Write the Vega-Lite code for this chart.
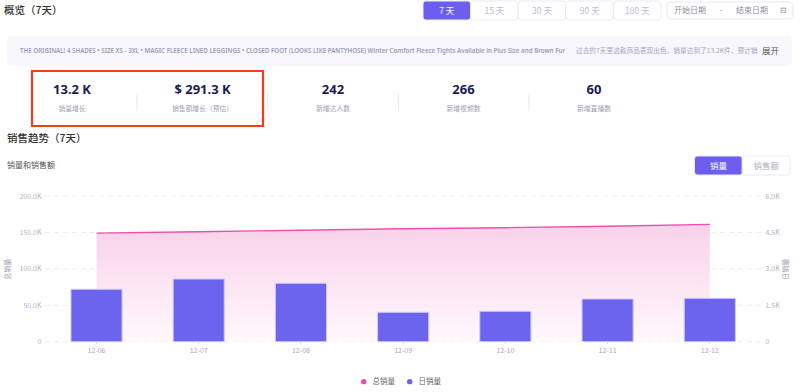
{
"$schema":"https://vega.github.io/schema/vega-lite/v6.json",
"width":800,"height":392,"padding":0,"autosize":{"type":"none"},
"background":"#ffffff",
"config":{"view":{"stroke":null},"font":"Noto Sans CJK SC","text":{"font":"Noto Sans CJK SC"}},
"resolve":{"scale":{"x":"independent","y":"independent"}},
"layer":[
{"data":{"values":[{"t":"概览（7天）"}]},"mark":{"type":"text","align":"left","baseline":"middle","fontSize":10.5,"fontWeight":500,"color":"#333333"},
 "encoding":{"text":{"field":"t"},"x":{"field":"t","type":"nominal","axis":null,"scale":{"range":[4,4]}},"y":{"field":"t","type":"nominal","axis":null,"scale":{"range":[11,11]}}}},
{"data":{"values":[{"tab":"7 天","on":true},{"tab":"15 天","on":false},{"tab":"30 天","on":false},{"tab":"90 天","on":false},{"tab":"180 天","on":false}]},"mark":{"type":"rect","cornerRadius":3,"stroke":"#E9E9F6","strokeWidth":1},
 "encoding":{"x":{"field":"tab","type":"nominal","sort":null,"axis":null,"scale":{"type":"band","range":[423,661],"paddingInner":0,"paddingOuter":0}},"y":{"field":"k","type":"nominal","axis":null,"scale":{"type":"band","range":[1,20],"paddingInner":0,"paddingOuter":0}},"fill":{"condition":{"test":"datum.on","value":"#6C5FEF"},"value":"#ffffff"}}},
{"data":{"values":[{"tab":"7 天","on":true},{"tab":"15 天","on":false},{"tab":"30 天","on":false},{"tab":"90 天","on":false},{"tab":"180 天","on":false}]},"mark":{"type":"text","baseline":"middle","fontSize":8.5},
 "encoding":{"text":{"field":"tab"},"x":{"field":"tab","type":"nominal","sort":null,"axis":null,"scale":{"type":"band","range":[423,661],"paddingInner":0,"paddingOuter":0}},"y":{"field":"k","type":"nominal","axis":null,"scale":{"range":[11,11]}},"color":{"condition":{"test":"datum.on","value":"#ffffff"},"value":"#BDBDCF"}}},
{"data":{"values":[{"box":"日期"}]},"mark":{"type":"rect","cornerRadius":4,"fill":"#ffffff","stroke":"#E9E9F0","strokeWidth":1},
 "encoding":{"x":{"field":"box","type":"nominal","axis":null,"scale":{"type":"band","range":[667,793],"paddingInner":0,"paddingOuter":0}},"y":{"field":"box","type":"nominal","axis":null,"scale":{"type":"band","range":[2,19],"paddingInner":0,"paddingOuter":0}}}},
{"data":{"values":[{"t":"开始日期"},{"t":"-"},{"t":"结束日期"},{"t":"⊟"}]},"mark":{"type":"text","baseline":"middle","fontSize":8,"color":"#8E8E98"},
 "encoding":{"text":{"field":"t"},"x":{"field":"t","type":"nominal","sort":null,"axis":null,"scale":{"type":"point","padding":0,"range":[690,783]}},"y":{"field":"k","type":"nominal","axis":null,"scale":{"range":[11,11]}}}},
{"data":{"values":[{"box":"摘要"}]},"mark":{"type":"rect","cornerRadius":5,"fill":"#F7F7FC"},
 "encoding":{"x":{"field":"box","type":"nominal","axis":null,"scale":{"type":"band","range":[7,792],"paddingInner":0,"paddingOuter":0}},"y":{"field":"box","type":"nominal","axis":null,"scale":{"type":"band","range":[36,66],"paddingInner":0,"paddingOuter":0}}}},
{"data":{"values":[{"t":"THE ORIGINAL! 4 SHADES • SIZE XS - 3XL • MAGIC FLEECE LINED LEGGINGS • CLOSED FOOT (LOOKS LIKE PANTYHOSE) Winter Comfort Fleece Tights Available in Plus Size and Brown Fur"}]},"mark":{"type":"text","align":"left","baseline":"middle","font":"Noto Sans","fontSize":6.2,"fontWeight":600,"color":"#9C9CB8"},
 "encoding":{"text":{"field":"t"},"x":{"field":"t","type":"nominal","axis":null,"scale":{"range":[20,20]}},"y":{"field":"t","type":"nominal","axis":null,"scale":{"range":[50.5,50.5]}}}},
{"data":{"values":[{"t":"过去的7天里这款商品表现出色。销量达到了13.2K件，预计销"}]},"mark":{"type":"text","align":"left","baseline":"middle","fontSize":6.7,"color":"#A6A6C0"},
 "encoding":{"text":{"field":"t"},"x":{"field":"t","type":"nominal","axis":null,"scale":{"range":[576,576]}},"y":{"field":"t","type":"nominal","axis":null,"scale":{"range":[50.5,50.5]}}}},
{"data":{"values":[{"t":"展开"}]},"mark":{"type":"text","align":"left","baseline":"middle","fontSize":8.5,"color":"#555555"},
 "encoding":{"text":{"field":"t"},"x":{"field":"t","type":"nominal","axis":null,"scale":{"range":[762,762]}},"y":{"field":"t","type":"nominal","axis":null,"scale":{"range":[50.5,50.5]}}}},
{"data":{"values":[{"box":"重点"}]},"mark":{"type":"rect","fill":null,"stroke":"#F53C1E","strokeWidth":2.2},
 "encoding":{"x":{"field":"box","type":"nominal","axis":null,"scale":{"type":"band","range":[32,263],"paddingInner":0,"paddingOuter":0}},"y":{"field":"box","type":"nominal","axis":null,"scale":{"type":"band","range":[71,126],"paddingInner":0,"paddingOuter":0}}}},
{"data":{"values":[{"n":"销量增长","v":"13.2 K"},{"n":"销售额增长（预估）","v":"$ 291.3 K"},{"n":"新增达人数","v":"242"},{"n":"新增视频数","v":"266"},{"n":"新增直播数","v":"60"}]},"mark":{"type":"text","baseline":"middle","font":"Noto Sans","fontSize":13,"fontWeight":700,"color":"#1C1A52"},
 "encoding":{"text":{"field":"v"},"x":{"field":"n","type":"nominal","sort":null,"axis":null,"scale":{"type":"point","padding":0,"range":[72,594]}},"y":{"field":"k","type":"nominal","axis":null,"scale":{"range":[90,90]}}}},
{"data":{"values":[{"n":"销量增长","v":"13.2 K"},{"n":"销售额增长（预估）","v":"$ 291.3 K"},{"n":"新增达人数","v":"242"},{"n":"新增视频数","v":"266"},{"n":"新增直播数","v":"60"}]},"mark":{"type":"text","baseline":"middle","fontSize":6.8,"color":"#A0A0B4"},
 "encoding":{"text":{"field":"n"},"x":{"field":"n","type":"nominal","sort":null,"axis":null,"scale":{"type":"point","padding":0,"range":[72,594]}},"y":{"field":"k","type":"nominal","axis":null,"scale":{"range":[108.5,108.5]}}}},
{"data":{"values":[{"n":"销量增长"},{"n":"销售额增长（预估）"},{"n":"新增达人数"},{"n":"新增视频数"}]},"mark":{"type":"rule","color":"#E8E8EF","strokeWidth":1},
 "encoding":{"x":{"field":"n","type":"nominal","sort":null,"axis":null,"scale":{"type":"point","padding":0,"range":[137,529]}},"y":{"datum":0,"type":"quantitative","axis":null,"scale":{"domain":[0,1],"range":[93,111]}},"y2":{"datum":1}}},
{"data":{"values":[{"t":"销售趋势（7天）"}]},"mark":{"type":"text","align":"left","baseline":"middle","fontSize":10.5,"fontWeight":500,"color":"#333333"},
 "encoding":{"text":{"field":"t"},"x":{"field":"t","type":"nominal","axis":null,"scale":{"range":[7,7]}},"y":{"field":"t","type":"nominal","axis":null,"scale":{"range":[138.5,138.5]}}}},
{"data":{"values":[{"t":"销量和销售额"}]},"mark":{"type":"text","align":"left","baseline":"middle","fontSize":8,"color":"#555555"},
 "encoding":{"text":{"field":"t"},"x":{"field":"t","type":"nominal","axis":null,"scale":{"range":[7,7]}},"y":{"field":"t","type":"nominal","axis":null,"scale":{"range":[165.5,165.5]}}}},
{"data":{"values":[{"tab":"销量","on":true},{"tab":"销售额","on":false}]},"mark":{"type":"rect","cornerRadius":3,"stroke":"#E9E9F6","strokeWidth":1},
 "encoding":{"x":{"field":"tab","type":"nominal","sort":null,"axis":null,"scale":{"type":"band","range":[694.5,790],"paddingInner":0,"paddingOuter":0}},"y":{"field":"k","type":"nominal","axis":null,"scale":{"type":"band","range":[156,175],"paddingInner":0,"paddingOuter":0}},"fill":{"condition":{"test":"datum.on","value":"#6C5FEF"},"value":"#ffffff"}}},
{"data":{"values":[{"tab":"销量","on":true},{"tab":"销售额","on":false}]},"mark":{"type":"text","baseline":"middle","fontSize":8.5},
 "encoding":{"text":{"field":"tab"},"x":{"field":"tab","type":"nominal","sort":null,"axis":null,"scale":{"type":"band","range":[694.5,790],"paddingInner":0,"paddingOuter":0}},"y":{"field":"k","type":"nominal","axis":null,"scale":{"range":[165.5,165.5]}},"color":{"condition":{"test":"datum.on","value":"#ffffff"},"value":"#B0B0C0"}}},
{"data":{"values":[{"v":0},{"v":50000},{"v":100000},{"v":150000},{"v":200000}]},"mark":{"type":"rule","color":"#ECECF2","strokeWidth":1,"strokeDash":[5,4]},
 "encoding":{"x":{"datum":0,"type":"quantitative","axis":null,"scale":{"domain":[0,1],"range":[45,762]}},"x2":{"datum":1},"y":{"field":"v","type":"quantitative","axis":null,"scale":{"domain":[0,200000],"range":[341.7,196]}}}},
{"data":{"name":"sales","values":[{"d":"12-06","total":149000,"daily":2158},{"d":"12-07","total":151000,"daily":2582},{"d":"12-08","total":153000,"daily":2405},{"d":"12-09","total":155000,"daily":1210},{"d":"12-10","total":156500,"daily":1252},{"d":"12-11","total":158500,"daily":1758},{"d":"12-12","total":161000,"daily":1787}]},
 "mark":{"type":"area","color":{"gradient":"linear","x1":0,"y1":0,"x2":0,"y2":1,"stops":[{"offset":0,"color":"#F8CFE8"},{"offset":1,"color":"#FFF8FC"}]},"opacity":0.95},
 "encoding":{"x":{"field":"d","type":"nominal","axis":null,"scale":{"type":"band","range":[45.4,760.9],"paddingInner":0.5,"paddingOuter":0.25}},
  "y":{"field":"total","type":"quantitative","scale":{"domain":[0,200000],"range":[341.7,196]},
   "axis":{"orient":"left","offset":-45,"title":"总销量","titleFontSize":7,"titleFontWeight":"normal","titleColor":"#9A9AA8","titleX":-35,"titleAngle":270,"values":[0,50000,100000,150000,200000],"labelExpr":"datum.value==0?'0':format(datum.value/1000,'.1f')+'K'","labelFontSize":7,"labelColor":"#B4B4CA","labelPadding":4,"ticks":false,"domain":false,"grid":false}}}},
{"data":{"name":"sales"},"mark":{"type":"line","strokeWidth":1.4},
 "encoding":{"x":{"field":"d","type":"nominal","axis":null,"scale":{"type":"band","range":[45.4,760.9],"paddingInner":0.5,"paddingOuter":0.25}},
  "y":{"field":"total","type":"quantitative","axis":null,"scale":{"domain":[0,200000],"range":[341.7,196]}},
  "color":{"datum":"总销量","type":"nominal","scale":{"domain":["总销量","日销量"],"range":["#EE4FAE","#6C63EE"]},
   "legend":{"title":null,"orient":"none","legendX":360,"legendY":377.5,"direction":"horizontal","symbolType":"circle","symbolSize":30,"labelFontSize":7.5,"labelColor":"#666666","columnPadding":11,"labelOffset":5,"symbolStrokeWidth":0}}}},
{"data":{"name":"sales"},"mark":{"type":"bar","stroke":"#CFC9FB","strokeWidth":1,"fillOpacity":1},
 "encoding":{"x":{"field":"d","type":"nominal","scale":{"type":"band","range":[45.4,760.9],"paddingInner":0.5,"paddingOuter":0.25},
   "axis":{"orient":"bottom","offset":-50.3,"title":null,"labelAngle":0,"labelFontSize":7,"labelColor":"#A9A9BC","labelPadding":3,"tickSize":2,"tickColor":"#DDDDE6","domain":false,"grid":false}},
  "y":{"field":"daily","type":"quantitative","scale":{"domain":[0,6000],"range":[341.7,196]},
   "axis":{"orient":"right","offset":-38,"title":"日销量","titleFontSize":7,"titleFontWeight":"normal","titleColor":"#9A9AA8","titleX":26,"titleAngle":270,"values":[0,1500,3000,4500,6000],"labelExpr":"datum.value==0?'0':format(datum.value/1000,'.1f')+'K'","labelFontSize":7,"labelColor":"#B4B4CA","labelPadding":3,"ticks":false,"domain":false,"grid":false}},
  "color":{"datum":"日销量","type":"nominal"}}}
]}
